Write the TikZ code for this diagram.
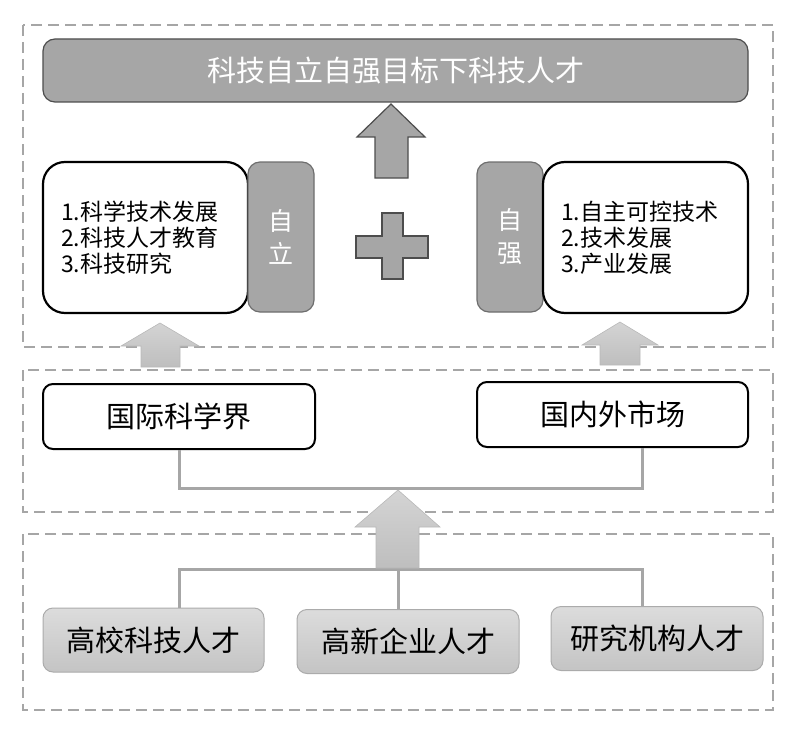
\documentclass[tikz,border=0pt]{standalone}
\usepackage{fontspec}
\setmainfont{Noto Sans CJK SC}
\definecolor{midgray}{HTML}{A6A6A6}
\definecolor{darkline}{HTML}{4D4D4D}
\definecolor{taggray}{HTML}{6E6E6E}
\definecolor{dashgray}{HTML}{A6A6A6}
\definecolor{conngray}{HTML}{A6A6A6}
\definecolor{arrowtop}{HTML}{D4D4D4}
\definecolor{arrowbot}{HTML}{BEBEBE}
\definecolor{arrowedge}{HTML}{B8B8B8}
\definecolor{talenttop}{HTML}{DCDCDC}
\definecolor{talentbot}{HTML}{C4C4C4}
\definecolor{talentedge}{HTML}{ABABAB}
\begin{document}
\begin{tikzpicture}[x=1pt,y=-1pt,
  dashbox/.style={draw=dashgray,line width=2pt,dash pattern=on 11pt off 6pt},
  titlebox/.style={draw=darkline,fill=midgray,rounded corners=12pt,line width=1.2pt,
    minimum width=705pt,minimum height=63pt,inner sep=0pt,text=white,
    font=\fontsize{29pt}{34pt}\selectfont},
  listbox/.style={draw=black,fill=white,line width=2.2pt,rounded corners=22pt,
    minimum width=205pt,minimum height=151pt,text width=169pt,align=left,
    inner xsep=18pt,inner ysep=0pt,font=\fontsize{23pt}{26pt}\selectfont},
  tagbox/.style={draw=taggray,fill=midgray,line width=1.2pt,rounded corners=12pt,
    minimum width=66pt,minimum height=150pt,inner sep=0pt,align=center,text=white,
    font=\fontsize{25pt}{33pt}\selectfont},
  fieldbox/.style={draw=black,fill=white,line width=2pt,rounded corners=10pt,
    minimum width=272pt,minimum height=65pt,inner sep=0pt,
    font=\fontsize{29pt}{34pt}\selectfont},
  talentbox/.style={draw=talentedge,top color=talenttop,bottom color=talentbot,
    line width=1pt,rounded corners=10pt,minimum height=64pt,inner sep=0pt,
    font=\fontsize{29pt}{34pt}\selectfont},
  darkarrow/.style={draw=darkline,fill=midgray,line width=1.2pt,line join=miter},
  lightarrow/.style={draw=arrowedge,top color=arrowtop,bottom color=arrowbot,line width=0.6pt},
  conn/.style={draw=conngray,line width=3pt}]
\useasboundingbox (0,0) rectangle (800,733);

% dashed group frames
\draw[dashbox] (23,25) rectangle (773,347);
\draw[dashbox] (23,370) rectangle (773,512);
\draw[dashbox] (23,534) rectangle (773,710);

% top group
\node[titlebox] (title) at (395.5,70.5) {科技自立自强目标下科技人才};
\draw[darkarrow] (357,137) -- (391,104) -- (425,137) -- (408,137) -- (408,178) -- (375,178) -- (375,137) -- cycle;

\node[listbox] (zlist) at (145.5,237.5) {1.科学技术发展\\2.科技人才教育\\3.科技研究};
\node[tagbox] (zili) at (281,237) {自\\立};
\node[tagbox] (ziqiang) at (510,237) {自\\强};
\node[listbox] (qlist) at (645.5,237.5) {1.自主可控技术\\2.技术发展\\3.产业发展};

\draw[darkarrow] (356,236) -- (382,236) -- (382,213) -- (403,213) -- (403,236) -- (428,236)
  -- (428,258) -- (403,258) -- (403,279) -- (382,279) -- (382,258) -- (356,258) -- cycle;

% arrows from middle group to top group
\draw[lightarrow] (121,346) -- (160,323) -- (199,346) -- (180,346) -- (180,367) -- (141,367) -- (141,346) -- cycle;
\draw[lightarrow] (582,345) -- (620,322) -- (658,345) -- (640,345) -- (640,365) -- (600,365) -- (600,345) -- cycle;

% middle group
\node[fieldbox] (gj) at (179,416.5) {国际科学界};
\node[fieldbox,minimum width=271pt] (nw) at (612.5,414.5) {国内外市场};
\coordinate (j2) at (398,488);
\draw[conn] (gj.south) |- (j2) -| ([xshift=29.5pt]nw.south);

% bottom group
\node[talentbox,minimum width=221pt] (gx) at (153.5,640) {高校科技人才};
\node[talentbox,minimum width=222pt] (gq) at (408,641.5) {高新企业人才};
\node[talentbox,minimum width=212pt] (yj) at (657,638.5) {研究机构人才};
\coordinate (j3) at (398,569);
\draw[conn] ([xshift=25.5pt]gx.north) |- (j3) -| ([xshift=-15pt]yj.north);
\draw[conn] ([xshift=-10pt]gq.north) -- (j3);

\draw[lightarrow] (355,527) -- (398,490) -- (440,527) -- (419,527) -- (419,568) -- (376,568) -- (376,527) -- cycle;
\end{tikzpicture}
\end{document}
